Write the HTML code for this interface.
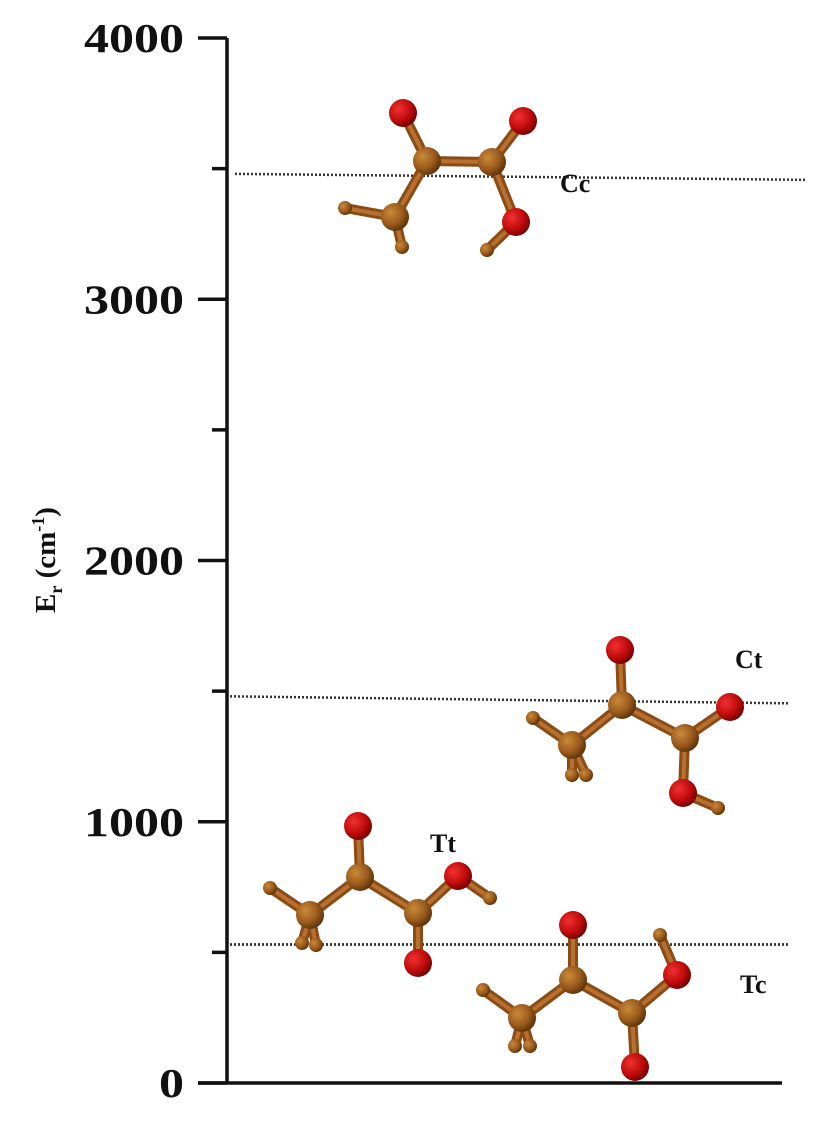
<!DOCTYPE html>
<html><head><meta charset="utf-8"><style>
html,body{margin:0;padding:0;background:#fff;width:821px;height:1122px;overflow:hidden}
svg{display:block}
text{font-family:"Liberation Serif",serif;font-weight:bold;fill:#111}
</style></head><body>
<svg id="chart" width="821" height="1122" viewBox="0 0 821 1122">
<defs>
<radialGradient id="gC" cx="0.35" cy="0.35" r="0.7"><stop offset="0" stop-color="#c98a3a"/><stop offset="0.6" stop-color="#9a5a1c"/><stop offset="1" stop-color="#5a3208"/></radialGradient>
<radialGradient id="gO" cx="0.35" cy="0.35" r="0.7"><stop offset="0" stop-color="#f03030"/><stop offset="0.6" stop-color="#c00c0c"/><stop offset="1" stop-color="#700000"/></radialGradient>
</defs>
<g id="axes"></g>
<g id="levels"></g>
<g id="mols"></g>
<text transform="translate(55,560) rotate(-90)" text-anchor="middle" font-size="29">E<tspan font-size="18" dy="7">r</tspan><tspan dy="-7"> (cm</tspan><tspan font-size="18" dy="-11">-1</tspan><tspan dy="11">)</tspan></text>
</svg>
<script>
const tickValues=[0,1000,2000,3000,4000];
const minorTicks=[500,1500,2500,3500];
const levelNames=["Cc","Ct","Tt","Tc"];
const levelValues=[3480,1480,530,530];
const NS="http://www.w3.org/2000/svg";
const y0=1083,y1=38,vmax=4000;
function Y(v){return y0-(v/vmax)*(y0-y1);}
function mk(tag,attrs,parent){const e=document.createElementNS(NS,tag);for(const k in attrs)e.setAttribute(k,attrs[k]);parent.appendChild(e);return e;}
const axes=document.getElementById('axes');
let ax=mk('line',{x1:227,y1:Y(4000),x2:227,y2:Y(0),stroke:'#111','stroke-width':3.5},axes);


let xa=mk('line',{x1:198,y1:Y(0),x2:782,y2:Y(0),stroke:'#111','stroke-width':3.5},axes);


tickValues.forEach(v=>{
 const t=mk('line',{x1:198,y1:Y(v),x2:227,y2:Y(v),stroke:'#111','stroke-width':3.5},axes);
 
 
 const s=String(v);
 const l=mk('text',{x:184,y:Y(v)+14,'text-anchor':'end','font-size':41,textLength:25*s.length,lengthAdjust:'spacingAndGlyphs'},axes);
 l.textContent=s;
 
 
});
minorTicks.forEach(v=>{
 const t=mk('line',{x1:212,y1:Y(v),x2:227,y2:Y(v),stroke:'#111','stroke-width':3.5},axes);
 
 
});
const levels=document.getElementById('levels');
const lvX=[[235,805],[230,790],[230,790],[230,790]];
const lvSlope=[6,7,0,0];
const lblPos=[[560,192],[735,668],[430,852],[740,993]];
levelValues.forEach((v,i)=>{
 const l=mk('line',{x1:lvX[i][0],y1:Y(v),x2:lvX[i][1],y2:Y(v)+lvSlope[i],stroke:'#333','stroke-width':2.5,'stroke-dasharray':'2 2'},levels);
 
 
 const t=mk('text',{x:lblPos[i][0],y:lblPos[i][1],'font-size':26},levels);
 t.textContent=levelNames[i];
 
 
});
const mols=document.getElementById('mols');
function molecule(name,atoms,bonds){
 const g=mk('g',{},mols);
 
 
 bonds.forEach(b=>{const a=atoms[b[0]],c=atoms[b[1]];
  mk('line',{x1:a[0],y1:a[1],x2:c[0],y2:c[1],stroke:'#8a4c14','stroke-width':10,'stroke-linecap':'round'},g);
  mk('line',{x1:a[0],y1:a[1],x2:c[0],y2:c[1],stroke:'#b87030','stroke-width':4},g);});
 atoms.forEach(a=>{const r=a[2]=='O'?14:a[2]=='C'?14:7;
  mk('circle',{cx:a[0],cy:a[1],r:r,fill:a[2]=='O'?'url(#gO)':'url(#gC)'},g);});
}
molecule('cc',[[403,113,'O'],[427,161,'C'],[492,162,'C'],[523,121,'O'],[516,222,'O'],[487,250,'H'],[395,217,'C'],[345,208,'H'],[402,247,'H']],
 [[0,1],[1,2],[2,3],[2,4],[4,5],[1,6],[6,7],[6,8]]);
molecule('ct',[[620,650,'O'],[622,705,'C'],[685,738,'C'],[730,707,'O'],[683,793,'O'],[718,808,'H'],[572,745,'C'],[533,718,'H'],[586,775,'H'],[572,775,'H']],
 [[0,1],[1,2],[2,3],[2,4],[4,5],[1,6],[6,7],[6,8],[6,9]]);
molecule('tt',[[358,826,'O'],[360,877,'C'],[418,913,'C'],[458,876,'O'],[490,898,'H'],[418,963,'O'],[310,915,'C'],[270,888,'H'],[316,945,'H'],[302,943,'H']],
 [[0,1],[1,2],[2,3],[3,4],[2,5],[1,6],[6,7],[6,8],[6,9]]);
molecule('tc',[[573,925,'O'],[573,980,'C'],[632,1013,'C'],[677,975,'O'],[660,935,'H'],[635,1067,'O'],[522,1018,'C'],[483,990,'H'],[530,1046,'H'],[515,1046,'H']],
 [[0,1],[1,2],[2,3],[3,4],[2,5],[1,6],[6,7],[6,8],[6,9]]);
</script>
</body></html>
